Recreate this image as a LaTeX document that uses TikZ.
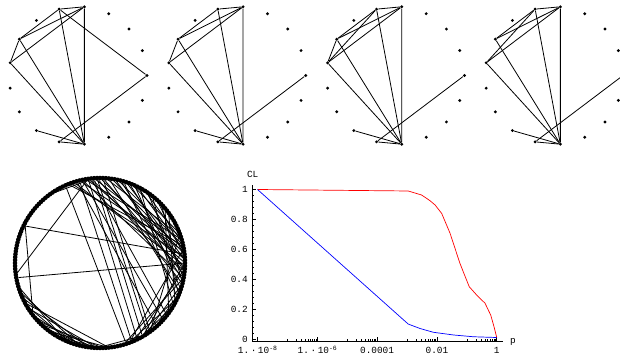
\documentclass[tikz,border=0pt]{standalone}
\usepackage{fontspec}
\newfontfamily\plotfont{Liberation Mono}

\begin{document}
\begin{tikzpicture}[x=1pt,y=1pt,
  dot/.style={circle,fill=black,inner sep=0pt,minimum size=3.2pt},
  bead/.style={circle,fill=black,inner sep=0pt,minimum size=4.6pt},
  edge/.style={line width=0.8pt},
  lbl/.style={font=\plotfont\fontsize{9.4}{10}\selectfont,inner sep=0pt}]
\useasboundingbox (0,0) rectangle (620,358);
% four small networks
\foreach \g/\dx in {1/0,2/158.7,3/317.4,4/476}{
  \foreach \k in {0,...,16}
    \node[dot] (g\g-\k) at ({78+\dx+69*cos(360*\k/17)},{282.5+69*sin(360*\k/17)}) {};
  \foreach \i/\j in {4/5,4/7,4/8,4/13,5/7,5/13,7/13,8/13,0/12,11/13,12/13}
    \draw[edge] (g\g-\i) -- (g\g-\j);
}
\draw[edge] (g1-5) -- (g1-0);
\foreach \g in {1,2,3} \draw[edge] (g\g-7) -- (g\g-8);
\foreach \g in {3,4} \draw[edge] (g\g-5) -- (g\g-8);

% big ring
\begin{scope}[shift={(100,95)}]
  \foreach \a in {0,2,...,358}
    \node[bead] (r\a) at (\a:85) {};
  \foreach \a/\b in {112/12,110/4,108/358,104/8,102/350,100/16,98/0,96/354,94/10,
      92/346,90/2,88/352,86/18,84/340,82/6,80/356,78/12,76/348,74/336,72/2,70/354,
      68/20,66/342,64/8,62/330,58/14,56/350,52/338,48/4,44/346,40/324,36/332,
      114/288,104/292,98/296,94/300,92/304,88/306,106/312,102/318,96/322,
      98/188,154/6,190/0,152/218,
      10/290,0/300,356/294,346/302,340/310,350/286,336/290,330/298,20/306,
      200/256,204/262,210/250,212/268,218/258,222/266,226/272,230/262,196/246,
      208/276,234/276,240/270,268/302,120/100,126/94}
    \draw[edge] (r\a) -- (r\b);
\end{scope}

% CL against p
\begin{scope}[shift={(496.7,19)},x=29.9pt,y=149.5pt]
  \draw[line width=0.9pt] (-8.18,-0.0134) -- (0.21,-0.0134);
  \draw[line width=0.9pt] (-8.18,-0.0134) -- (-8.18,1.03);
  \foreach \d in {-8,-6,-4,-2,0}
    \draw[line width=0.6pt] (\d,-0.0134) -- (\d,0.014);
  \foreach \d in {-7,-5,-3,-1}
    \foreach \m in {1,...,9}
      \draw[line width=0.5pt] ({\d+ln(\m)/ln(10)},-0.0134) -- ({\d+ln(\m)/ln(10)},0.0);
  \foreach \v in {0,0.2,0.4,0.6,0.8,1}{
    \draw[line width=0.6pt] (-8.18,\v) -- (-8.05,\v);
    \node[lbl,anchor=east] (ytick\v) at (-8.32,\v) {\v};
  }
  \foreach \v in {0.04,0.08,...,1.0}
    \draw[line width=0.5pt] (-8.18,\v) -- (-8.11,\v);
  \node[lbl] (xtick8) at (-8,-0.074) {1.\,·\,10\raisebox{0.55ex}{\fontsize{6.5}{7}\selectfont-8}};
  \node[lbl] (xtick6) at (-6,-0.074) {1.\,·\,10\raisebox{0.55ex}{\fontsize{6.5}{7}\selectfont-6}};
  \node[lbl] (xtick4) at (-4,-0.074) {0.0001};
  \node[lbl] (xtick2) at (-2,-0.074) {0.01};
  \node[lbl] (xtick0) at (0,-0.074) {1};
  \node[lbl] (cl) at (-8.16,1.099) {CL};
  \node[lbl] (plabel) at (0.545,-0.02) {p};
  \draw[red,line width=0.7pt] (-8,1) -- (-2.96,0.99) -- (-2.51,0.963) -- (-2.23,0.925)
    -- (-2.06,0.896) -- (-1.84,0.84) -- (-1.56,0.707) -- (-1.23,0.506) -- (-0.92,0.35)
    -- (-0.67,0.294) -- (-0.39,0.239) -- (-0.2,0.16) -- (-0.09,0.082) -- (0,0.01);
  \draw[blue,line width=0.7pt] (-8,1) -- (-2.96,0.1) -- (-2.56,0.07) -- (-2.12,0.045)
    -- (-1.45,0.027) -- (-0.78,0.015) -- (0,0.01);
\end{scope}
\end{tikzpicture}
\end{document}
